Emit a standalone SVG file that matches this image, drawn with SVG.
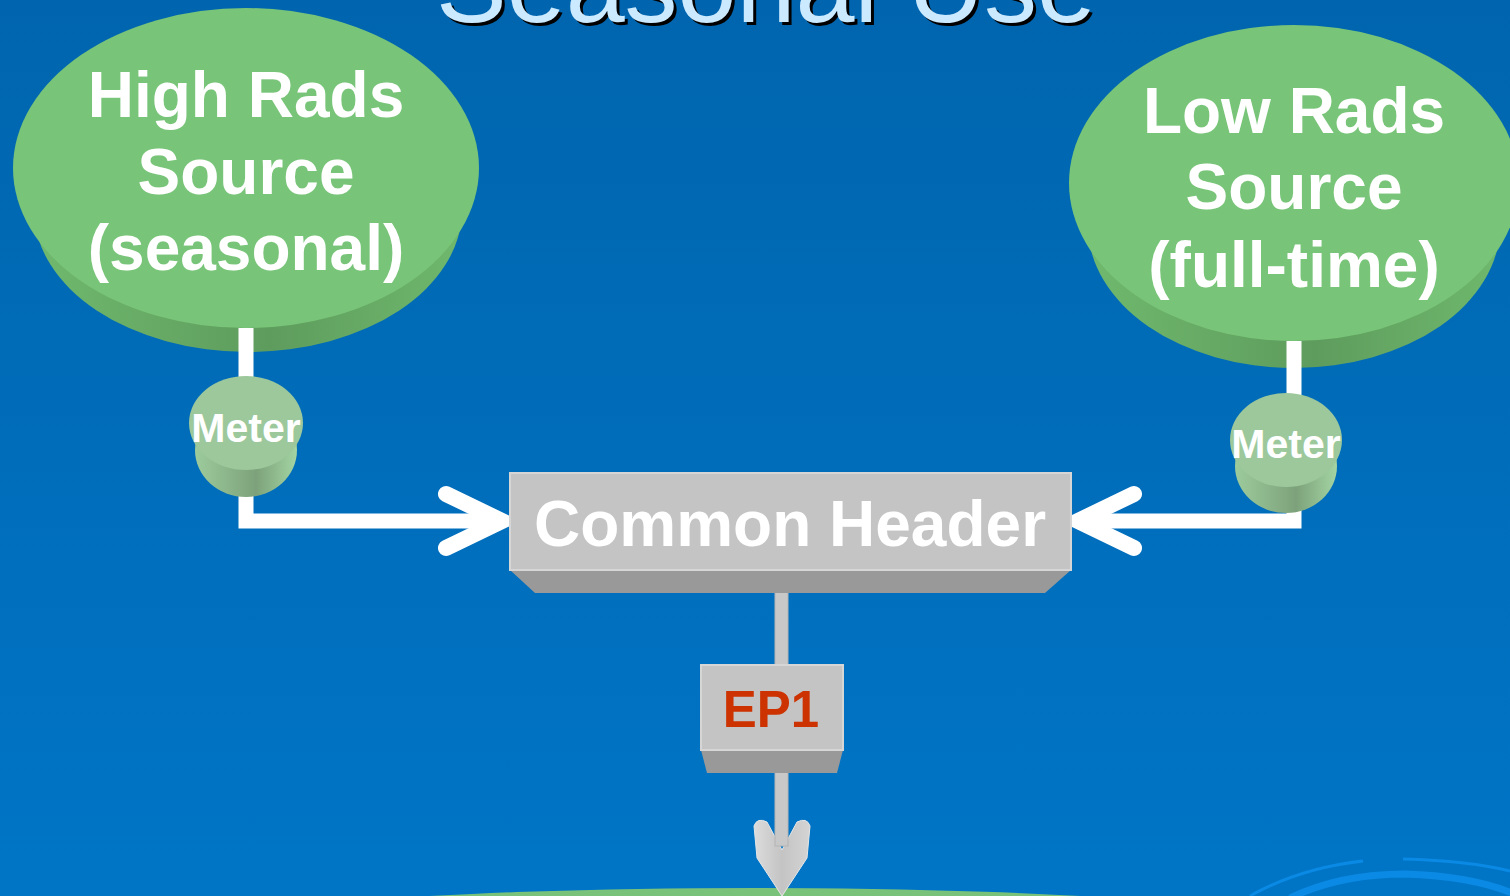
<svg xmlns="http://www.w3.org/2000/svg" width="1510" height="896" viewBox="0 0 1510 896">
<defs>
<linearGradient id="bg" x1="0" y1="0" x2="0" y2="1"><stop offset="0" stop-color="#0065AE"/><stop offset="1" stop-color="#0075C6"/></linearGradient>
<linearGradient id="side" x1="0" y1="0" x2="1" y2="0"><stop offset="0" stop-color="#70B96E"/><stop offset="0.55" stop-color="#5E9C5D"/><stop offset="1" stop-color="#6FB86D"/></linearGradient>
<linearGradient id="mside" x1="0" y1="0" x2="1" y2="0"><stop offset="0" stop-color="#9DCB9C"/><stop offset="0.6" stop-color="#7DA27B"/><stop offset="1" stop-color="#A4D5A3"/></linearGradient>
<linearGradient id="arrowG" x1="0" y1="0" x2="1" y2="0"><stop offset="0" stop-color="#DCDCDC"/><stop offset="0.5" stop-color="#C4C4C4"/><stop offset="1" stop-color="#D4D4D4"/></linearGradient>
</defs>
<style>
.lbl{font-family:"Liberation Sans",Arial,sans-serif;font-weight:bold;fill:#FFFFFF;text-anchor:middle}
.top{fill:#78C478}
.mtop{fill:#9CC89C}
.conn{fill:none;stroke:#FFFFFF;stroke-width:15}
.chev{fill:none;stroke:#FFFFFF;stroke-width:16;stroke-linecap:round;stroke-linejoin:miter}
.face{fill:#C4C4C4;stroke:#D6D6D6;stroke-width:2}
.bevel{fill:#999999}
.pipe{fill:#C8C8C8;stroke:#B4B4B4;stroke-width:1}
.swirl{fill:none;stroke:#0A8AE4}
</style>
<rect x="0" y="0" width="1510" height="896" fill="url(#bg)"/>
<g id="decor">
<path class="swirl" stroke-width="3" d="M1250,896 Q1300,868 1363,861"/>
<path class="swirl" stroke-width="3" d="M1403,859 Q1470,861 1510,871"/>
<path class="swirl" stroke-width="7" d="M1290,898 Q1340,874 1405,874 Q1470,876 1512,893"/>
<ellipse cx="755" cy="938" rx="600" ry="50" fill="#79C27A"/>
</g>
<g id="title">
<text x="769" y="25" font-family="'Liberation Sans',Arial,sans-serif" font-size="106" text-anchor="middle" fill="#000000">Seasonal Use</text>
<text x="766" y="22" font-family="'Liberation Sans',Arial,sans-serif" font-size="106" text-anchor="middle" fill="#CCEAFF">Seasonal Use</text>
</g>
<g id="high-rads-source">
<ellipse cx="248" cy="210" rx="214" ry="142" fill="url(#side)"/>
<ellipse class="top" cx="246" cy="168" rx="233" ry="160"/>
<text class="lbl" x="246" y="117" font-size="64">High Rads</text>
<text class="lbl" x="246" y="194" font-size="64">Source</text>
<text class="lbl" x="246" y="270" font-size="64">(seasonal)</text>
</g>
<g id="low-rads-source">
<ellipse cx="1294" cy="226" rx="206" ry="142" fill="url(#side)"/>
<ellipse class="top" cx="1294" cy="183" rx="225" ry="158"/>
<text class="lbl" x="1294" y="133" font-size="64">Low Rads</text>
<text class="lbl" x="1294" y="209" font-size="64">Source</text>
<text class="lbl" x="1294" y="287" font-size="64">(full-time)</text>
</g>
<g id="connectors">
<path class="conn" d="M246,328 V521 H500"/>
<polyline class="chev" points="446,494 502,521 446,548"/>
<path class="conn" d="M1294,341 V521 H1078"/>
<polyline class="chev" points="1134,494 1078,521 1134,548"/>
<path d="M754,826 Q757,817 767,822 L782,850 L797,822 Q807,817 810,826 L807,858 L782,896 L757,858 Z" fill="url(#arrowG)" stroke="#E6E6E6" stroke-width="1"/>
<rect class="pipe" x="775" y="584" width="13" height="82"/>
<rect class="pipe" x="775" y="772" width="13" height="74"/>
</g>
<g id="meter-left">
<ellipse cx="246" cy="450" rx="51" ry="47" fill="url(#mside)"/>
<ellipse class="mtop" cx="246" cy="423" rx="57" ry="47"/>
<text class="lbl" x="246" y="442" font-size="41">Meter</text>
</g>
<g id="meter-right">
<ellipse cx="1286" cy="466" rx="51" ry="47" fill="url(#mside)"/>
<ellipse class="mtop" cx="1286" cy="440" rx="56" ry="47"/>
<text class="lbl" x="1286" y="458" font-size="41">Meter</text>
</g>
<g id="common-header">
<polygon class="bevel" points="510,570 1071,570 1045,593 535,593"/>
<rect class="face" x="510" y="473" width="561" height="97"/>
<text class="lbl" x="790" y="546" font-size="64">Common Header</text>
</g>
<g id="ep1">
<polygon class="bevel" points="701,750 843,750 837,773 707,773"/>
<rect class="face" x="701" y="665" width="142" height="85"/>
<text class="lbl" x="771" y="727" font-size="51" style="fill:#CC3300">EP1</text>
</g>
</svg>
